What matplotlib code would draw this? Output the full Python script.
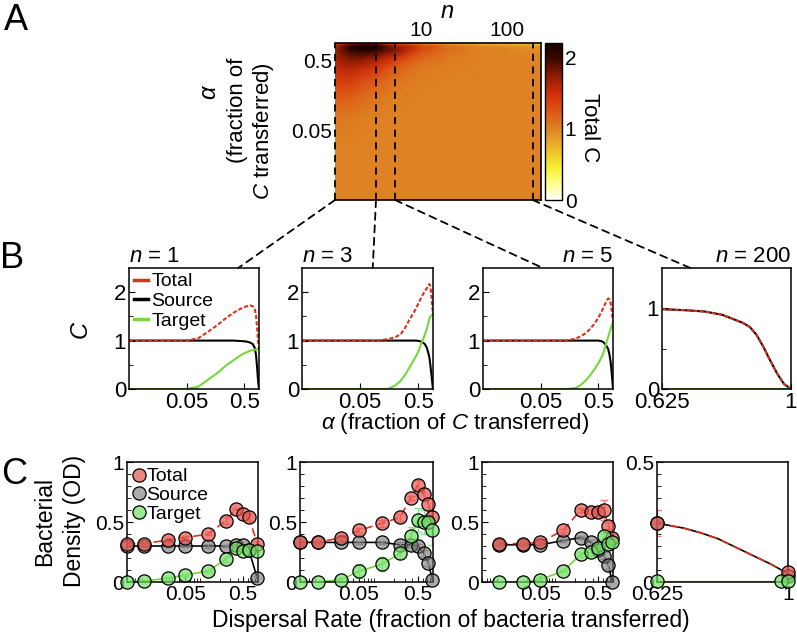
import numpy as np
import matplotlib
matplotlib.use('Agg')
import matplotlib.pyplot as plt
from matplotlib.colors import LinearSegmentedColormap
from matplotlib.patches import ConnectionPatch
from matplotlib.lines import Line2D
from matplotlib.ticker import FixedLocator, NullLocator, LogLocator, NullFormatter

plt.rcParams['font.family'] = ['Liberation Sans', 'DejaVu Sans']
plt.rcParams['mathtext.fontset'] = 'custom'
plt.rcParams['mathtext.rm'] = 'Liberation Sans'
plt.rcParams['mathtext.it'] = 'Liberation Sans:italic'

# ---- Panel A: total C over (n, alpha) ----
heat_n = [1, 1.5, 2, 3, 4, 5, 7, 10, 20, 50, 250]
heat_alpha = [0.005, 0.03, 0.08, 0.15, 0.25, 0.4, 0.55, 0.7, 0.8, 0.86, 0.9]
heat_total = [
    [1.00, 1.00, 1.00, 1.00, 1.00, 1.00, 1.00, 1.00, 1.00, 1.00, 1.00],
    [1.00, 1.00, 1.00, 1.00, 1.00, 1.00, 1.00, 1.00, 1.00, 1.00, 1.00],
    [1.06, 1.05, 1.03, 1.01, 1.00, 1.00, 1.00, 1.00, 1.00, 1.00, 1.00],
    [1.22, 1.20, 1.14, 1.07, 1.03, 1.02, 1.01, 1.00, 1.00, 1.00, 1.00],
    [1.40, 1.38, 1.30, 1.20, 1.12, 1.08, 1.04, 1.02, 1.00, 1.00, 1.00],
    [1.55, 1.60, 1.55, 1.45, 1.30, 1.22, 1.12, 1.06, 1.02, 1.00, 1.00],
    [1.65, 1.80, 1.80, 1.70, 1.55, 1.45, 1.30, 1.15, 1.05, 1.00, 0.98],
    [1.70, 2.00, 2.10, 2.05, 1.85, 1.80, 1.55, 1.30, 1.10, 1.00, 0.96],
    [1.65, 2.10, 2.20, 2.15, 1.90, 1.70, 1.60, 1.35, 1.12, 0.98, 0.90],
    [1.50, 1.90, 2.00, 2.00, 1.70, 1.50, 1.40, 1.20, 1.00, 0.85, 0.75],
    [1.30, 1.50, 1.60, 1.50, 1.30, 1.35, 1.10, 0.90, 0.70, 0.50, 0.55],
]
slice_n = [1, 3, 5, 200]

# ---- Panel B: model curves ----
b1_alpha = [0.005, 0.02, 0.05, 0.08, 0.12, 0.17, 0.25, 0.33, 0.45, 0.55, 0.63, 0.7, 0.76, 0.8, 0.84, 0.87, 0.9]
b1_total = [1.0, 1.0, 1.0, 1.05, 1.19, 1.32, 1.48, 1.58, 1.67, 1.71, 1.73, 1.71, 1.66, 1.52, 1.22, 0.98, 0.83]
b1_source = [1.0, 1.0, 1.0, 1.0, 1.0, 1.0, 1.0, 1.0, 0.99, 0.98, 0.96, 0.93, 0.85, 0.7, 0.4, 0.15, 0.0]
b1_target = [0.0, 0.0, 0.0, 0.05, 0.2, 0.33, 0.5, 0.6, 0.71, 0.76, 0.79, 0.8, 0.81, 0.82, 0.82, 0.83, 0.83]

b2_alpha = [0.005, 0.05, 0.1, 0.15, 0.2, 0.25, 0.3, 0.36, 0.42, 0.47, 0.52, 0.57, 0.65, 0.7, 0.75, 0.78, 0.81, 0.84, 0.87, 0.9]
b2_total = [1.0, 1.0, 1.0, 1.03, 1.07, 1.13, 1.27, 1.45, 1.58, 1.69, 1.8, 1.9, 2.02, 2.08, 2.13, 2.17, 2.12, 1.96, 1.75, 1.54]
b2_source = [1.0, 1.0, 1.0, 1.0, 1.0, 1.0, 1.0, 1.0, 1.0, 1.0, 0.99, 0.98, 0.93, 0.86, 0.74, 0.65, 0.5, 0.33, 0.15, 0.0]
b2_target = [0.0, 0.0, 0.0, 0.0, 0.07, 0.17, 0.3, 0.46, 0.6, 0.7, 0.82, 0.95, 1.12, 1.23, 1.37, 1.45, 1.5, 1.52, 1.53, 1.54]

b3_alpha = [0.005, 0.05, 0.1, 0.14, 0.2, 0.24, 0.3, 0.36, 0.43, 0.5, 0.56, 0.61, 0.67, 0.74, 0.78, 0.82, 0.86, 0.88, 0.9]
b3_total = [1.0, 1.0, 1.0, 1.0, 1.04, 1.08, 1.15, 1.24, 1.35, 1.47, 1.58, 1.67, 1.78, 1.87, 1.86, 1.78, 1.6, 1.5, 1.4]
b3_source = [1.0, 1.0, 1.0, 1.0, 1.0, 1.0, 1.0, 1.0, 1.0, 1.0, 0.99, 0.97, 0.92, 0.83, 0.72, 0.55, 0.3, 0.15, 0.0]
b3_target = [0.0, 0.0, 0.0, 0.0, 0.02, 0.07, 0.17, 0.28, 0.41, 0.53, 0.64, 0.74, 0.9, 1.07, 1.16, 1.24, 1.32, 1.35, 1.38]

b4_alpha = [0.625, 0.7, 0.75, 0.8, 0.83, 0.86, 0.88, 0.9, 0.92, 0.94, 0.96, 0.98, 1.0]
b4_total = [0.99, 0.975, 0.96, 0.92, 0.87, 0.82, 0.77, 0.67, 0.52, 0.35, 0.19, 0.06, 0.0]
b4_source = [0.99, 0.975, 0.96, 0.92, 0.87, 0.82, 0.77, 0.67, 0.52, 0.35, 0.19, 0.06, 0.0]
b4_target = [0.0] * 13

# ---- Panel C: measured densities (OD) ----
c1_rate = [0.005, 0.01, 0.025, 0.05, 0.125, 0.25, 0.375, 0.5, 0.625, 0.875]
c1_total = [0.32, 0.32, 0.35, 0.37, 0.40, 0.51, 0.61, 0.57, 0.54, 0.32]
c1_source = [0.30, 0.30, 0.30, 0.30, 0.30, 0.30, 0.31, 0.31, 0.27, 0.03]
c1_target = [0.0, 0.01, 0.03, 0.06, 0.09, 0.19, 0.28, 0.26, 0.27, 0.26]
c1_total_err = [0.01, 0.01, 0.02, 0.01, 0.01, 0.03, 0.01, 0.01, 0.03, 0.02]
c1_source_err = [0.01, 0.01, 0.01, 0.01, 0.02, 0.01, 0.01, 0.01, 0.02, 0.02]
c1_target_err = [0.0, 0.0, 0.01, 0.01, 0.01, 0.02, 0.02, 0.01, 0.02, 0.03]

c2_rate = [0.005, 0.01, 0.025, 0.05, 0.125, 0.25, 0.375, 0.5, 0.625, 0.75, 0.875]
c2_total = [0.33, 0.33, 0.37, 0.43, 0.49, 0.54, 0.70, 0.81, 0.73, 0.65, 0.54]
c2_source = [0.33, 0.33, 0.33, 0.33, 0.33, 0.31, 0.31, 0.30, 0.24, 0.16, 0.02]
c2_target = [0.0, 0.0, 0.02, 0.09, 0.15, 0.24, 0.38, 0.52, 0.50, 0.50, 0.43]
c2_total_err = [0.01, 0.01, 0.02, 0.02, 0.03, 0.03, 0.02, 0.04, 0.05, 0.05, 0.05]
c2_source_err = [0.01, 0.01, 0.01, 0.01, 0.01, 0.02, 0.02, 0.02, 0.03, 0.03, 0.02]
c2_target_err = [0.0, 0.0, 0.01, 0.06, 0.06, 0.05, 0.08, 0.10, 0.10, 0.10, 0.12]

c3_rate = [0.01, 0.025, 0.05, 0.125, 0.25, 0.375, 0.5, 0.625, 0.75, 0.875]
c3_total = [0.32, 0.32, 0.33, 0.43, 0.60, 0.585, 0.58, 0.60, 0.47, 0.37]
c3_source = [0.31, 0.31, 0.31, 0.345, 0.37, 0.33, 0.27, 0.22, 0.14, 0.0]
c3_target = [0.0, 0.0, 0.02, 0.09, 0.23, 0.25, 0.28, 0.38, 0.32, 0.33]
c3_total_err = [0.01, 0.01, 0.01, 0.01, 0.02, 0.02, 0.04, 0.08, 0.03, 0.03]
c3_source_err = [0.01, 0.01, 0.01, 0.01, 0.01, 0.02, 0.02, 0.03, 0.03, 0.01]
c3_target_err = [0.0, 0.0, 0.01, 0.01, 0.02, 0.03, 0.03, 0.03, 0.03, 0.03]

c4_rate = [0.625, 1.0]
c4_total = [0.245, 0.04]
c4_source = [0.245, 0.025]
c4_total_err = [0.055, 0.01]
c4_target_rate = [0.625, 0.98, 1.0]
c4_target = [0.005, 0.005, 0.005]
c4_model_rate = [0.625, 0.7, 0.75, 0.8, 0.85, 0.9, 0.95, 1.0]
c4_model = [0.245, 0.225, 0.205, 0.18, 0.145, 0.11, 0.075, 0.035]

RED = '#E0301E'
GREEN = '#77D63A'
FC_TOTAL = (0.91, 0.33, 0.30, 0.7)
FC_SOURCE = (0.45, 0.45, 0.45, 0.6)
FC_TARGET = (0.45, 0.88, 0.40, 0.7)

W, H = 797, 639
fig = plt.figure(figsize=(W / 100, H / 100), dpi=100)


def px_axes(x0, y0, x1, y1):
    return fig.add_axes([x0 / W, 1 - y1 / H, (x1 - x0) / W, (y1 - y0) / H])


def fig_text(x, y, s, **kw):
    fig.text(x / W, 1 - y / H, s, ha=kw.pop('ha', 'center'), va=kw.pop('va', 'center'), **kw)


# ----- Panel A -----
cmap = LinearSegmentedColormap.from_list('totalC', [
    (0.0, '#FFFFFF'), (0.09, '#FFFF99'), (0.2, '#F9F232'), (0.33, '#EBB828'),
    (0.455, '#DE8223'), (0.58, '#DC5014'), (0.67, '#D5300A'), (0.8, '#8A1A04'),
    (0.9, '#3A0800'), (1.0, '#150000')])

ax_h = px_axes(335, 43, 541, 200)
mesh = ax_h.pcolormesh(heat_n, heat_alpha, np.array(heat_total), cmap=cmap,
                       vmin=0, vmax=2.2, shading='gouraud')
ax_h.set_xscale('log')
ax_h.set_yscale('log')
ax_h.set_xlim(1, 250)
ax_h.set_ylim(0.005, 0.9)
ax_h.xaxis.tick_top()
ax_h.set_xticks([10, 100])
ax_h.set_xticklabels(['10', '100'])
ax_h.set_yticks([0.05, 0.5])
ax_h.set_yticklabels(['0.05', '0.5'])
ax_h.xaxis.set_minor_locator(NullLocator())
ax_h.yaxis.set_minor_locator(NullLocator())
ax_h.tick_params(labelsize=15, length=0, pad=2)
ax_h.spines['left'].set_visible(False)
for s in ['top', 'bottom', 'right']:
    ax_h.spines[s].set_linewidth(1.2)
for n in slice_n:
    ax_h.axvline(n, color='k', lw=1.3, ls=(0, (4, 3)), clip_on=False)

cax = px_axes(545, 43, 562, 200)
cb = fig.colorbar(mesh, cax=cax, ticks=[0, 1, 2])
cb.outline.set_linewidth(1)
cax.tick_params(labelsize=15, length=0, pad=2)

fig_text(447, 11, 'n', fontsize=17, style='italic')
fig_text(590, 128, 'Total C', fontsize=16, rotation=270)
fig_text(209, 92, 'α', fontsize=17, style='italic', rotation=90)
fig_text(237, 110, '(fraction of', fontsize=16, rotation=90)
fig_text(264, 131, '$C$ transferred)', fontsize=16, rotation=90)

# ----- Panel B -----
b_boxes = [(129, 259), (302, 433), (483, 613), (662, 791)]
b_data = [(b1_alpha, b1_total, b1_source, b1_target),
          (b2_alpha, b2_total, b2_source, b2_target),
          (b3_alpha, b3_total, b3_source, b3_target),
          (b4_alpha, b4_total, b4_source, b4_target)]
b_ends = [0.84, 0.54, 0.46, 0.22]
b_axes = []
for i, ((x0, x1), (a, tot, src, tgt)) in enumerate(zip(b_boxes, b_data)):
    ax = px_axes(x0, 268, x1, 389)
    ax.plot(a, src, color='k', lw=1.5)
    ax.plot(a, tgt, color=GREEN, lw=1.5)
    ax.plot(a, tot, color=RED, lw=1.5, ls=(0, (2, 1)))
    if i < 3:
        ax.set_xscale('log')
        ax.set_xlim(0.005, 0.9)
        ax.set_xticks([0.05, 0.5])
        ax.set_xticklabels(['0.05', '0.5'])
        ax.set_ylim(0, 2.5)
        ax.set_yticks([0, 1, 2])
        ax.yaxis.set_minor_locator(FixedLocator([0.5, 1.5]))
    else:
        ax.set_xlim(0.625, 1)
        ax.set_xticks([0.625, 1])
        ax.set_xticklabels(['0.625', '1'])
        ax.set_ylim(0, 1.5)
        ax.set_yticks([0, 1])
        ax.yaxis.set_minor_locator(FixedLocator([0.5]))
    ax.xaxis.set_minor_locator(NullLocator())
    ax.tick_params(which='both', direction='in', labelsize=16, pad=2)
    ax.tick_params(which='major', length=4)
    ax.tick_params(which='minor', length=3)
    for s in ax.spines.values():
        s.set_linewidth(1.1)
    loc = 'left' if i < 2 else 'right'
    ax.set_title('$n$ = %d' % slice_n[i], loc=loc, fontsize=16, pad=4)
    b_axes.append(ax)
    con = ConnectionPatch(xyA=(slice_n[i], 0.005), coordsA=ax_h.transData,
                          xyB=(b_ends[i], 1), coordsB=ax.transAxes,
                          color='k', lw=1.3, ls=(0, (4, 3)))
    fig.add_artist(con)

b_axes[0].legend(handles=[Line2D([], [], color=RED, lw=2.5),
                          Line2D([], [], color='k', lw=2.5),
                          Line2D([], [], color=GREEN, lw=2.5)],
                 labels=['Total', 'Source', 'Target'], loc='upper left',
                 frameon=False, fontsize=14, handlelength=0.75,
                 handletextpad=0.15, labelspacing=0.1, borderaxespad=0.15,
                 borderpad=0.1)

fig_text(80, 330, 'C', fontsize=17, style='italic', rotation=90)
fig_text(455, 424, '$\\alpha$ (fraction of $C$ transferred)', fontsize=16)

# ----- Panel C -----
c_boxes = [(127, 258), (300, 433), (482, 613), (657, 788)]
c_data = [(c1_rate, c1_total, c1_source, c1_target, c1_total_err, c1_source_err, c1_target_err),
          (c2_rate, c2_total, c2_source, c2_target, c2_total_err, c2_source_err, c2_target_err),
          (c3_rate, c3_total, c3_source, c3_target, c3_total_err, c3_source_err, c3_target_err)]
mk = dict(marker='o', ms=9.5, mec='k', mew=0.9, ls='none', clip_on=False, zorder=5)
c_axes = []
for i, (x0, x1) in enumerate(c_boxes):
    ax = px_axes(x0, 462, x1, 582)
    if i < 3:
        a, tot, src, tgt, etot, esrc, etgt = c_data[i]
        ax.plot(a, src, color='k', lw=1.2)
        ax.plot(a, tgt, color=GREEN, lw=1.2)
        ax.plot(a, tot, color=RED, lw=1.2, ls=(0, (5, 3)))
        ax.errorbar(a, src, yerr=esrc, fmt='none', ecolor='#A8A8A8', elinewidth=1, capsize=3)
        ax.errorbar(a, tgt, yerr=etgt, fmt='none', ecolor='#8EE08E', elinewidth=1, capsize=3)
        ax.errorbar(a, tot, yerr=etot, fmt='none', ecolor='#F08080', elinewidth=1, capsize=3)
        ax.plot(a, src, mfc=FC_SOURCE, **mk)
        ax.plot(a, tot, mfc=FC_TOTAL, **mk)
        ax.plot(a, tgt, mfc=FC_TARGET, **mk)
        ax.set_xscale('log')
        ax.set_xlim(0.005, 0.9)
        ax.set_xticks([0.05, 0.5])
        ax.set_xticklabels(['0.05', '0.5'])
        ax.xaxis.set_minor_locator(LogLocator(base=10, subs=np.arange(2, 10)))
        ax.xaxis.set_minor_formatter(NullFormatter())
        ax.set_ylim(0, 1)
        ax.set_yticks([0, 0.5, 1])
        ax.set_yticklabels(['0', '0.5', '1'])
        ax.yaxis.set_minor_locator(FixedLocator(np.arange(0.1, 1.0, 0.1)))
    else:
        ax.plot(c4_model_rate, c4_model, color='k', lw=1.2)
        ax.plot(c4_model_rate, c4_model, color=RED, lw=1.2, ls=(0, (5, 3)))
        ax.plot([0.625, 1.0], [0.0, 0.0], color=GREEN, lw=1.5)
        ax.errorbar(c4_rate, c4_total, yerr=c4_total_err, fmt='none', ecolor='#F08080',
                    elinewidth=1, capsize=3)
        ax.plot(c4_rate, c4_source, mfc=FC_SOURCE, **mk)
        ax.plot(c4_rate, c4_total, mfc=FC_TOTAL, **mk)
        ax.plot(c4_target_rate, c4_target, mfc=FC_TARGET, **mk)
        ax.set_xlim(0.625, 1)
        ax.set_xticks([0.625, 1])
        ax.set_xticklabels(['0.625', '1'])
        ax.xaxis.set_minor_locator(NullLocator())
        ax.set_ylim(0, 0.5)
        ax.set_yticks([0, 0.5])
        ax.set_yticklabels(['0', '0.5'])
        ax.yaxis.set_minor_locator(FixedLocator(np.arange(0.05, 0.5, 0.05)))
    ax.tick_params(which='both', direction='in', labelsize=15, pad=2)
    ax.tick_params(which='major', length=4)
    ax.tick_params(which='minor', length=3)
    ax.tick_params(axis='x', which='both', top=False)
    for s in ax.spines.values():
        s.set_linewidth(1.1)
    c_axes.append(ax)

c_axes[0].legend(handles=[Line2D([], [], mfc=FC_TOTAL, **mk),
                          Line2D([], [], mfc=FC_SOURCE, **mk),
                          Line2D([], [], mfc=FC_TARGET, **mk)],
                 labels=['Total', 'Source', 'Target'], loc='upper left',
                 frameon=False, fontsize=14, handlelength=0.6,
                 handletextpad=0.1, labelspacing=0.05, borderaxespad=0.1,
                 borderpad=0.2)

fig_text(45, 522, 'Bacterial', fontsize=16.5, rotation=90)
fig_text(75, 521, 'Density (OD)', fontsize=16.5, rotation=90)
fig_text(451, 621, 'Dispersal Rate (fraction of bacteria transferred)', fontsize=16.5)

# ----- panel letters -----
fig_text(16, 20, 'A', fontsize=26)
fig_text(12, 258, 'B', fontsize=26)
fig_text(14, 474, 'C', fontsize=26)

fig.savefig('out.png', dpi=100)
